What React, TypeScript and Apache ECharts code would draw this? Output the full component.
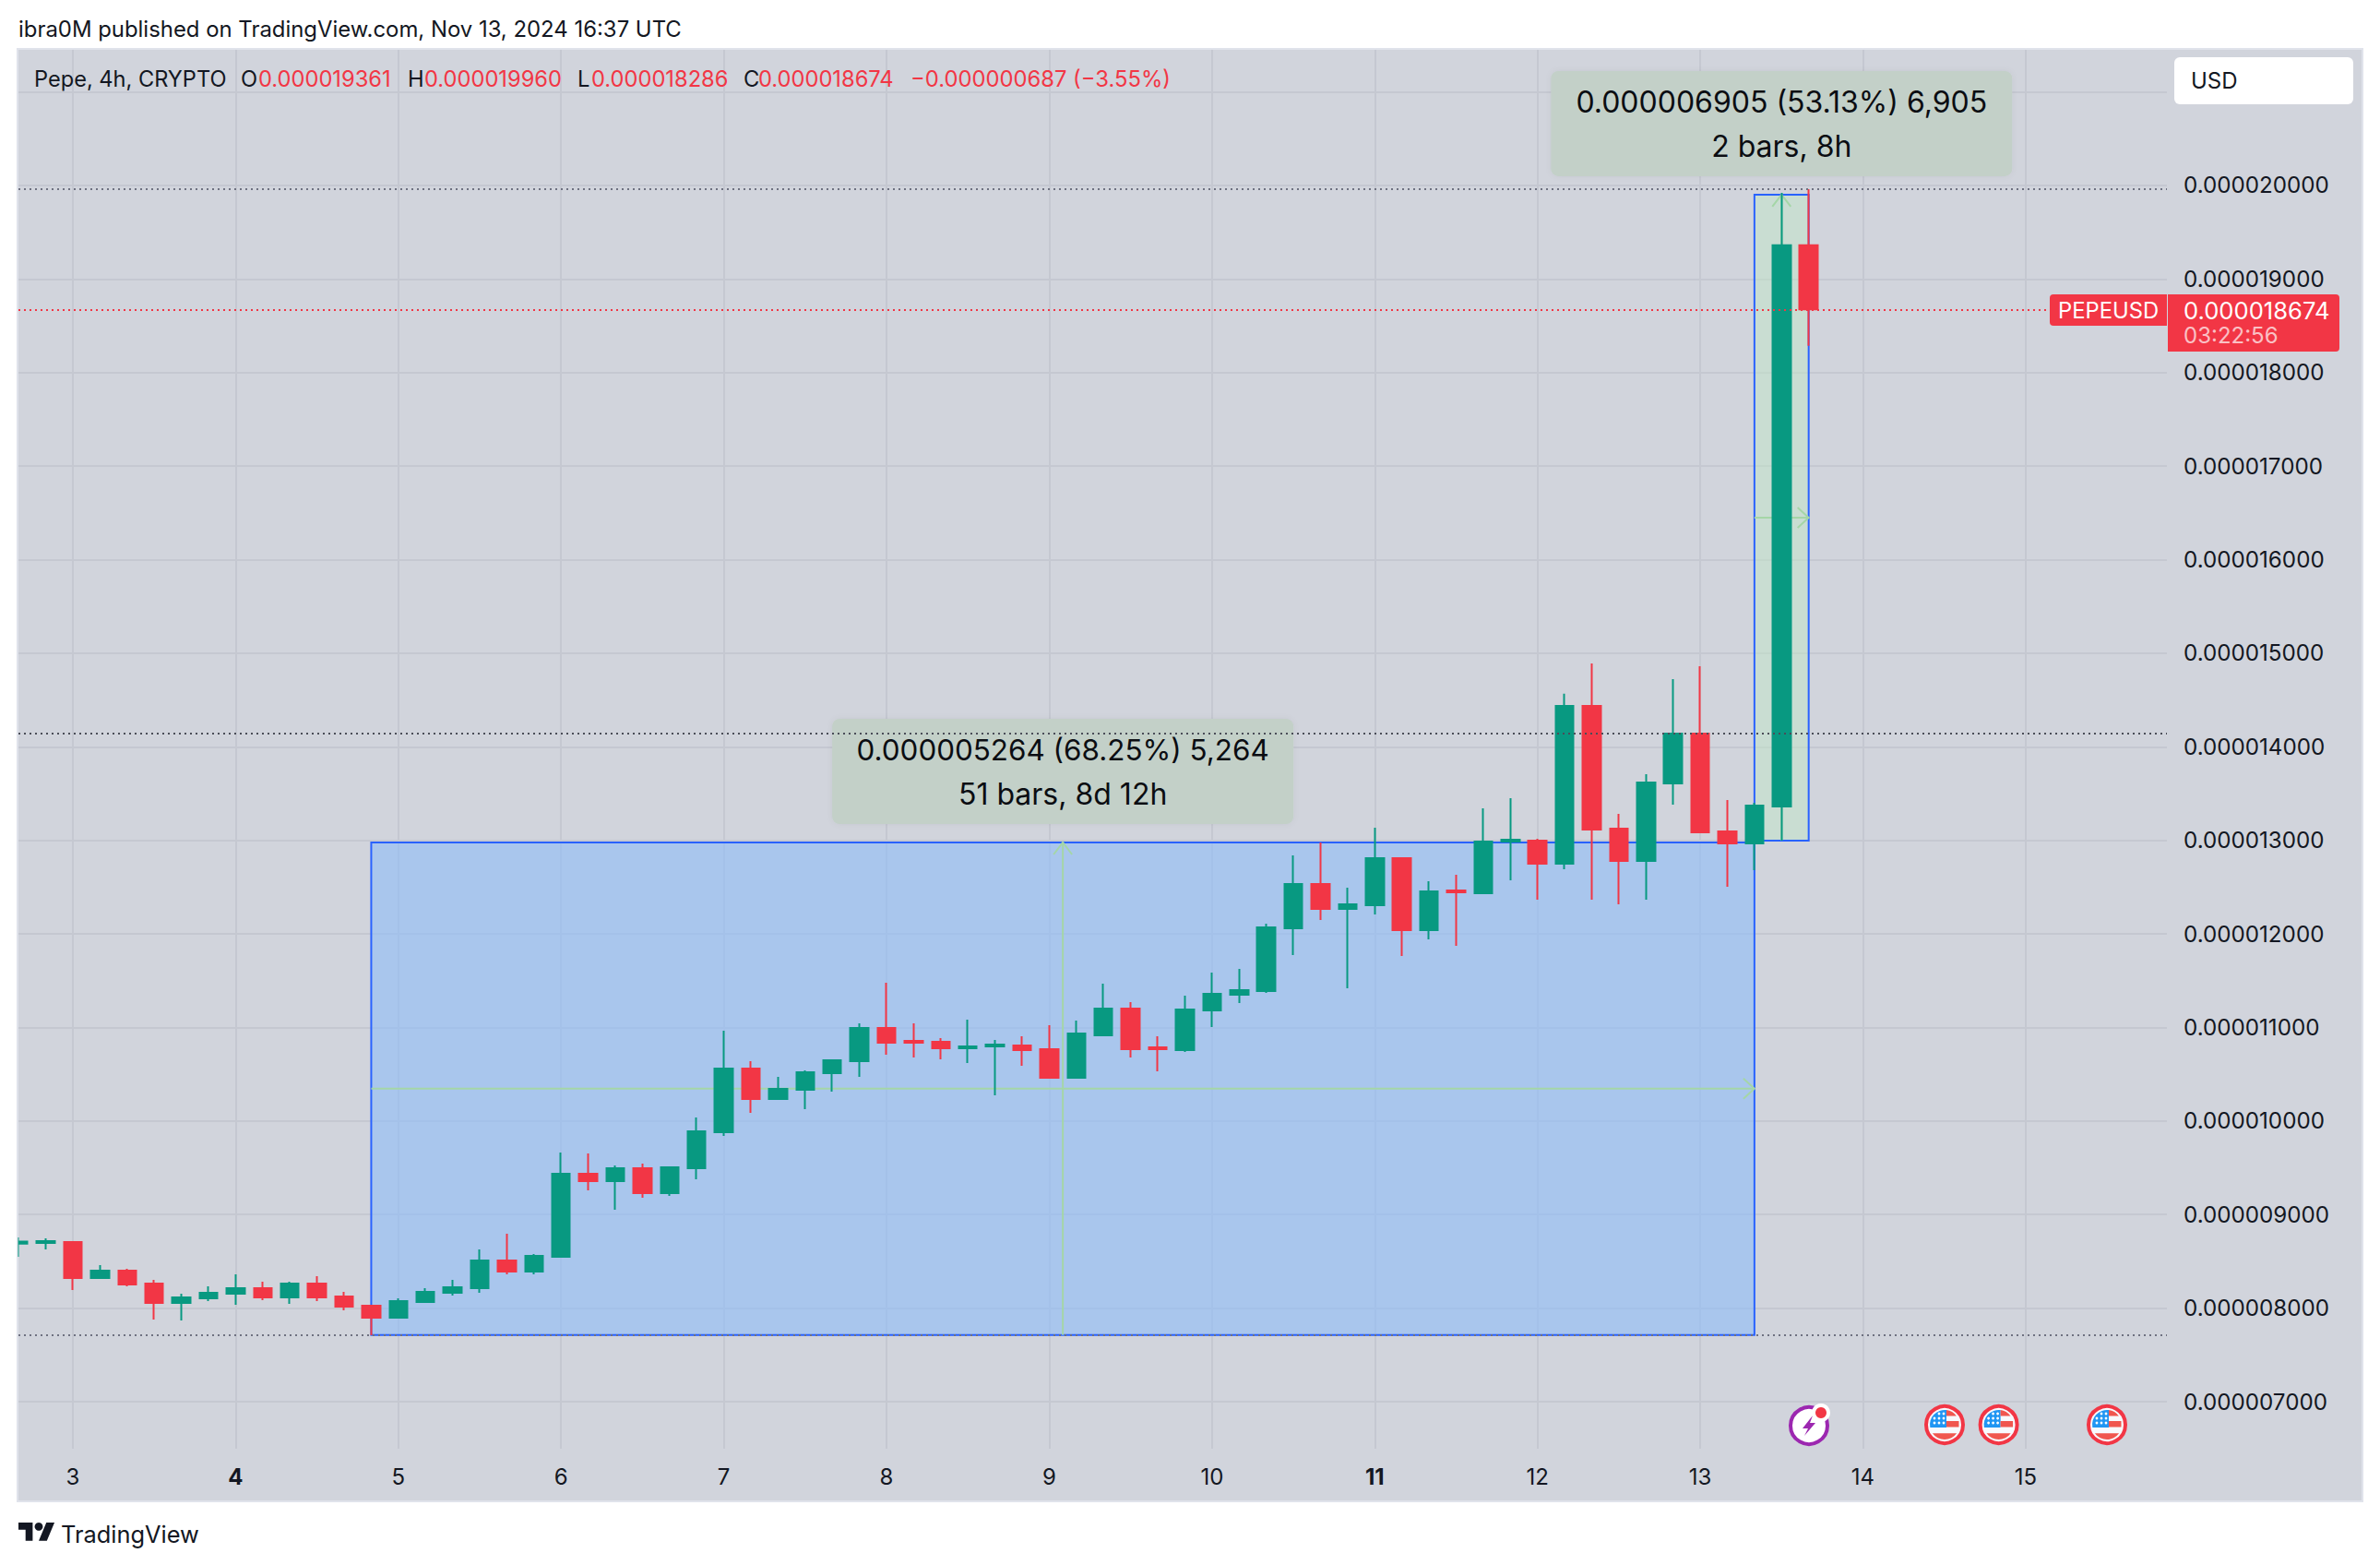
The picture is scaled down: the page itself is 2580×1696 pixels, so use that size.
import React, { useEffect, useRef } from "react";
import * as echarts from "echarts";

// All prices are in millionths of a USD (1 = 0.000001)
const firstDay = 2 + 4 / 6; // the first visible 4h bar
const opens = [8.690,8.696,8.706,8.322,8.401,8.263,8.055,8.105,8.154,8.213,8.115,8.263,8.124,8.026,7.898,8.065,8.164,8.213,8.509,8.391,8.549,9.436,9.357,9.495,9.229,9.495,9.880,10.561,10.235,10.334,10.511,10.640,10.995,10.857,10.847,10.778,10.797,10.807,10.768,10.462,10.916,11.202,10.787,10.758,11.182,11.350,11.389,12.060,12.533,12.267,12.306,12.809,12.040,12.464,12.435,12.987,12.997,12.750,14.437,13.125,12.780,13.608,14.141,13.095,12.967,13.361,19.361];
const highs = [8.756,8.746,8.716,8.460,8.420,8.302,8.154,8.233,8.361,8.282,8.282,8.341,8.174,8.036,8.105,8.213,8.302,8.627,8.795,8.578,9.663,9.653,9.525,9.545,9.515,10.038,10.965,10.640,10.472,10.541,10.649,11.044,11.478,11.044,10.886,11.083,10.866,10.906,11.024,11.073,11.468,11.271,10.906,11.340,11.586,11.626,12.109,12.839,12.977,12.494,13.135,12.819,12.563,12.632,13.342,13.451,13.017,14.568,14.890,13.283,13.707,14.723,14.861,13.431,13.401,19.920,19.960];
const lows = [8.549,8.627,8.193,8.322,8.233,7.878,7.868,8.075,8.036,8.085,8.046,8.075,7.976,7.710,7.898,8.065,8.134,8.164,8.361,8.361,8.549,9.259,9.052,9.180,9.200,9.377,9.841,10.087,10.235,10.127,10.314,10.472,10.709,10.679,10.659,10.620,10.275,10.590,10.462,10.462,10.916,10.679,10.531,10.738,11.004,11.261,11.369,11.774,12.149,11.419,12.208,11.764,11.941,11.872,12.425,12.573,12.366,12.691,12.366,12.316,12.366,13.381,13.086,12.504,12.681,12.996,18.286];
const closes = [8.710,8.716,8.322,8.401,8.253,8.055,8.115,8.164,8.213,8.115,8.263,8.115,8.016,7.898,8.075,8.174,8.223,8.509,8.391,8.558,9.436,9.357,9.495,9.229,9.505,9.890,10.561,10.235,10.344,10.521,10.649,10.995,10.837,10.837,10.778,10.797,10.817,10.758,10.462,10.935,11.202,10.768,10.768,11.192,11.360,11.399,12.070,12.533,12.267,12.316,12.809,12.040,12.454,12.444,12.987,13.007,12.750,14.437,13.115,12.780,13.618,14.141,13.086,12.967,13.372,19.361,18.674];

const dayTicks = [3, 4, 5, 6, 7, 8, 9, 10, 11, 12, 13, 14, 15];
const boldDays = [4, 11];
const priceGrid = [7, 8, 9, 10, 11, 12, 13, 14, 15, 16, 17, 18, 19, 20, 21];
const priceLabels = [7, 8, 9, 10, 11, 12, 13, 14, 15, 16, 17, 18, 19, 20];

// Two measuring tools, drawn on the chart
const toolFromDay = [3 + 11 / 6, 3 + 62 / 6];
const toolToDay = [3 + 62 / 6, 3 + 64 / 6];
const toolLow = [7.713, 12.996];
const toolHigh = [12.977, 19.901];
const toolLine1 = ["0.000005264 (68.25%) 5,264", "0.000006905 (53.13%) 6,905"];
const toolLine2 = ["51 bars, 8d 12h", "2 bars, 8h"];
const toolFill = ["rgba(142,189,248,0.6)", "rgba(193,230,199,0.5)"];
const toolLine1Size = [31.4, 32];

// Horizontal dotted levels
const levelHigh = 19.96;
const levelMid = 14.14;
const levelLow = 7.713;
const levelLast = 18.674;

const FONT = "Inter";
const INK = "#131722";
const UP = "#089981";
const DOWN = "#f23645";
const BLUE = "#2962ff";
const ARROW = "#a5d6a7";
const PANEL = "#d1d4dc";

const TV_LOGO = "M14 22H7V11H0V4h14v18zM28 22h-8l7.5-18h8L28 22z";
const FLAG_CANTON = "M2,-15.9 A16,16 0 0 0 -15.7,3 L2,3 Z";
const FLAG_TOP = "M2,-15.9 A16,16 0 0 1 12.9,-9.5 L2,-9.5 Z";
const FLAG_BOTTOM = "M-13.1,9.2 A16,16 0 0 0 13.1,9.2 Z";
const BOLT = "M4,-11 L-7,3 L-1,3 L-5,11 L7,-3 L1,-3 L4,-11 Z";

let registered = false;
function registerShapes() {
  if (registered) return;
  registered = true;
  echarts.graphic.registerShape("tvLogo", echarts.graphic.extendPath(TV_LOGO as any, {}) as any);
  echarts.graphic.registerShape("flagCanton", echarts.graphic.extendPath(FLAG_CANTON as any, {}) as any);
  echarts.graphic.registerShape("flagTop", echarts.graphic.extendPath(FLAG_TOP as any, {}) as any);
  echarts.graphic.registerShape("flagBottom", echarts.graphic.extendPath(FLAG_BOTTOM as any, {}) as any);
  echarts.graphic.registerShape("bolt", echarts.graphic.extendPath(BOLT as any, {}) as any);
}

const txt = (text: string, x: number, y: number, fill: string, fontSize = 24, extra: any = {}) => ({
  type: "text",
  x,
  y,
  z: 10,
  style: { text, fill, fontSize, fontFamily: FONT, textVerticalAlign: "middle", textAlign: "left", ...extra },
});

const flag = (cx: number, cy: number) => ({
  type: "group",
  x: cx,
  y: cy,
  z: 10,
  children: [
    { type: "circle", shape: { cx: 0, cy: 0, r: 20 }, style: { fill: "#f8f9fd", stroke: DOWN, lineWidth: 4 } },
    { type: "flagCanton", style: { fill: "#2196f3" } },
    { type: "flagTop", style: { fill: "#f0564f" } },
    { type: "rect", shape: { x: 2, y: -4, width: 13.5, height: 6.5 }, style: { fill: "#f0564f" } },
    { type: "flagBottom", style: { fill: "#f0564f" } },
    ...[[-6, -12], [-1, -12], [-11, -7], [-6, -7], [-1, -7], [-11, -2], [-6, -2], [-1, -2]].map(([x, y]) => ({
      type: "circle",
      shape: { cx: x, cy: y, r: 1.4 },
      style: { fill: "#ffffff" },
    })),
  ],
});

function renderTool(params: any, api: any) {
  const i = params.dataIndex;
  const x0 = api.value(0), x1 = api.value(1), lo = api.value(2), hi = api.value(3);
  const [left, bottom] = api.coord([x0, lo]);
  const [right, top] = api.coord([x1, hi]);
  const midX = (left + right) / 2;
  const midY = (top + bottom) / 2;
  const line = (x1_: number, y1_: number, x2_: number, y2_: number) => ({
    type: "line",
    shape: { x1: x1_, y1: y1_, x2: x2_, y2: y2_ },
    style: { stroke: ARROW, lineWidth: 2 },
  });
  const chevron = (pts: number[][]) => ({
    type: "polyline",
    shape: { points: pts },
    style: { stroke: ARROW, lineWidth: 2, fill: null },
  });
  const w = 500;
  const boxBottom = top - 20;
  return {
    type: "group",
    children: [
      {
        type: "rect",
        shape: { x: left, y: top, width: right - left, height: bottom - top },
        style: { fill: toolFill[i], stroke: BLUE, lineWidth: 2 },
      },
      line(left, midY, right, midY),
      line(midX, top, midX, bottom),
      chevron([[right - 12, midY - 11], [right, midY], [right - 12, midY + 11]]),
      chevron([[midX - 10, top + 13], [midX, top], [midX + 10, top + 13]]),
      {
        type: "rect",
        shape: { x: midX - w / 2, y: boxBottom - 114, width: w, height: 114, r: 8 },
        style: { fill: "#c3d0c8", shadowBlur: 6, shadowColor: "rgba(0,0,0,0.06)" },
      },
      {
        type: "text",
        x: midX,
        y: boxBottom - 80,
        style: { text: toolLine1[i], fill: "#0b0d12", fontSize: toolLine1Size[i], fontFamily: FONT, textAlign: "center", textVerticalAlign: "middle" },
      },
      {
        type: "text",
        x: midX,
        y: boxBottom - 32,
        style: { text: toolLine2[i], fill: "#0b0d12", fontSize: 32, fontFamily: FONT, textAlign: "center", textVerticalAlign: "middle" },
      },
    ],
  };
}

export default function App() {
  const ref = useRef<HTMLDivElement>(null);
  useEffect(() => {
    registerShapes();
    const chart = echarts.init(ref.current!, undefined, { renderer: "svg" });
    const candles = opens.map((o, i) => [firstDay + i / 6, o, closes[i], lows[i], highs[i]]);
    const dotted = (value: number, color: string) => ({
      yAxis: value,
      lineStyle: { color, width: 2, type: [2, 4] as any },
    });
    chart.setOption({
      animation: false,
      backgroundColor: "#ffffff",
      textStyle: { fontFamily: FONT },
      grid: { left: 20, right: 231, top: 54, bottom: 126 },
      xAxis: {
        type: "value",
        min: 2.6655,
        max: 15.868,
        axisLine: { show: false },
        axisTick: { show: false, customValues: dayTicks },
        splitLine: { show: true, lineStyle: { color: "#c5c8d1", width: 2 } },
        axisLabel: {
          customValues: dayTicks,
          margin: 18,
          color: INK,
          fontSize: 24,
          fontFamily: FONT,
          hideOverlap: false,
          formatter: (v: number) => (boldDays.includes(v) ? `{b|${v}}` : `${v}`),
          rich: { b: { fontWeight: "bold", fontSize: 24, fontFamily: FONT, color: INK } },
        },
      },
      yAxis: {
        type: "value",
        position: "right",
        min: 6.497,
        max: 21.449,
        axisLine: { show: false },
        axisTick: { show: false, customValues: priceGrid },
        splitLine: { show: true, lineStyle: { color: "#c5c8d1", width: 2 } },
        axisLabel: {
          customValues: priceLabels,
          margin: 18,
          color: INK,
          fontSize: 24.2,
          fontFamily: FONT,
          align: "left",
          formatter: (v: number) => (v * 1e-6).toFixed(9),
        },
      },
      series: [
        {
          type: "custom",
          z: 1,
          silent: true,
          renderItem: renderTool,
          data: toolFromDay.map((x, i) => [x, toolToDay[i], toolLow[i], toolHigh[i]]),
        },
        {
          type: "candlestick",
          z: 2,
          barWidth: 20,
          itemStyle: { color: UP, color0: DOWN, borderColor: UP, borderColor0: DOWN, borderWidth: 2 },
          data: candles,
          markLine: {
            silent: true,
            symbol: "none",
            label: { show: false },
            data: [
              dotted(levelHigh, "#6e7180"),
              dotted(levelMid, "#4a4d58"),
              dotted(levelLow, "#6e7180"),
              dotted(levelLast, DOWN),
            ],
          },
        },
      ],
      graphic: {
        elements: [
          { type: "rect", z: -1, shape: { x: 19, y: 53, width: 2542, height: 1574 }, style: { fill: PANEL, stroke: "#e0e3eb", lineWidth: 2 } },
          // page margin in front of the bar that the panel's left edge cuts in half
          { type: "rect", z: 9, shape: { x: 0, y: 54, width: 18, height: 1572 }, style: { fill: "#ffffff" } },
          { type: "rect", z: 9, shape: { x: 18, y: 54, width: 1.5, height: 1572 }, style: { fill: "#e0e3eb" } },
          txt("ibra0M published on TradingView.com, Nov 13, 2024 16:37 UTC", 20, 31, INK, 23.9),
          txt("Pepe, 4h, CRYPTO", 37, 85, INK, 23.6),
          txt("O", 261, 85, INK, 23.7),
          txt("0.000019361", 280, 85, DOWN, 23.7),
          txt("H", 442, 85, INK, 23.7),
          txt("0.000019960", 460, 85, DOWN, 23.7),
          txt("L", 626, 85, INK, 23.7),
          txt("0.000018286", 641, 85, DOWN, 23.7),
          txt("C", 806, 85, INK, 23.7),
          txt("0.000018674", 822, 85, DOWN, 23.7),
          txt("\u22120.000000687 (\u22123.55%)", 987, 85, DOWN, 23.8),
          { type: "rect", z: 10, shape: { x: 2357, y: 62, width: 194, height: 51, r: 6 }, style: { fill: "#ffffff" } },
          txt("USD", 2375, 87, INK, 24),
          { type: "rect", z: 10, shape: { x: 2222, y: 319, width: 127, height: 34, r: [4, 0, 0, 4] }, style: { fill: DOWN } },
          txt("PEPEUSD", 2231, 336, "#ffffff", 23.8),
          { type: "rect", z: 10, shape: { x: 2350, y: 319, width: 186, height: 62, r: [0, 4, 4, 0] }, style: { fill: DOWN } },
          txt("0.000018674", 2367, 336, "#ffffff", 25.6),
          txt("03:22:56", 2367, 363, "rgba(255,255,255,0.7)", 24),
          flag(2108, 1544),
          flag(2166.6, 1544),
          flag(2284, 1544),
          {
            type: "group",
            x: 1961,
            y: 1545,
            z: 10,
            children: [
              { type: "circle", shape: { cx: 0, cy: 0, r: 20 }, style: { fill: "#ffffff", stroke: "#9c27b0", lineWidth: 4 } },
              { type: "bolt", style: { fill: "#9c27b0" } },
              { type: "circle", shape: { cx: 13, cy: -14, r: 10 }, style: { fill: "#ffffff" } },
              { type: "circle", shape: { cx: 13, cy: -14, r: 6 }, style: { fill: DOWN } },
            ],
          },
          { type: "tvLogo", z: 10, x: 20, y: 1645.6, scaleX: 1.1, scaleY: 1.1, style: { fill: INK } },
          { type: "circle", z: 10, shape: { cx: 42, cy: 1654.4, r: 4.4 }, style: { fill: INK } },
          txt("TradingView", 66, 1662, INK, 25.4),
        ],
      },
    });
    return () => chart.dispose();
  }, []);
  return <div ref={ref} style={{ position: "fixed", left: 0, top: 0, width: 2580, height: 1696 }} />;
}
